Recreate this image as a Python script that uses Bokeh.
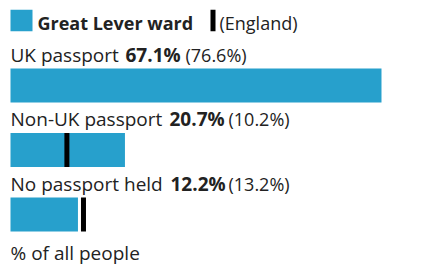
from bokeh.plotting import figure
from bokeh.models import Range1d
from bokeh.core.properties import value
from bokeh.embed import file_html
from bokeh.resources import INLINE

# ---- data ----
categories = ["UK passport", "Non-UK passport", "No passport held"]
ward_values = [67.1, 20.7, 12.2]
england_values = [76.6, 10.2, 13.2]
area_name = "Great Lever ward"
comparison_name = "England"
axis_note = "% of all people"

# ---- layout (pixels, in picture coordinates) ----
OFF = 0
W, H = 430, 264
PX_PER_PCT = 5.529
X0 = 10              # picture pixel of 0%
BAR_TOP0 = 68
ROW_STEP = 64.5
BAR_H = 34
LABEL_GAP = 9
TEXT_SHIFT = -5
bold_offsets = [115, 159, 160]
paren_offsets = [175, 218, 218]

FONT = value("Open Sans")
FS = "19px"
FS2 = "18px"
TXT = "#222222"
BAR = "#27a0cc"

def px(xpage):
    return (xpage - X0) / PX_PER_PCT

def py(ypage):
    return ypage - OFF

def ty(ypage):
    return ypage - OFF + TEXT_SHIFT

p = figure(width=W, height=H, output_backend="svg", toolbar_location=None,
           x_range=Range1d(px(OFF), px(OFF + W)), y_range=Range1d(H, 0),
           min_border=0, outline_line_color=None)
p.axis.visible = False
p.grid.visible = False
p.background_fill_color = "white"
p.border_fill_color = "white"

n = len(categories)
tops = [BAR_TOP0 + i * ROW_STEP for i in range(n)]
centers = [py(t) + BAR_H / 2 for t in tops]
baselines = [ty(t - LABEL_GAP) for t in tops]

p.hbar(y=centers, left=0, right=ward_values, height=BAR_H,
       fill_color=BAR, line_color=None)
p.rect(x=england_values, y=centers, width=5, width_units="screen",
       height=BAR_H, fill_color="black", line_color=None)

p.text(x=[0] * n, y=baselines, text=categories, text_font=FONT,
       text_font_size=FS, text_color=TXT, text_baseline="alphabetic")
p.text(x=[0] * n, y=baselines, text=[f"{v:.1f}%" for v in ward_values],
       x_offset=bold_offsets, text_font=FONT, text_font_style="bold",
       text_font_size=FS, text_color=TXT, text_baseline="alphabetic")
p.text(x=[0] * n, y=baselines, text=[f"({v:.1f}%)" for v in england_values],
       x_offset=paren_offsets, text_font=FONT,
       text_font_size=FS2, text_color=TXT, text_baseline="alphabetic")

# legend
p.rect(x=[px(21)], y=[py(20)], width=22, height=21.4, width_units="screen",
       fill_color=BAR, line_color=None)
p.text(x=[px(37)], y=[ty(27)], text=[area_name], text_font=FONT,
       text_font_style="bold", text_font_size=FS2, text_color=TXT,
       text_baseline="alphabetic")
p.rect(x=[px(212.5)], y=[py(20)], width=5, height=21.4, width_units="screen",
       fill_color="black", line_color=None)
p.text(x=[px(219)], y=[ty(27)], text=[f"({comparison_name})"], text_font=FONT,
       text_font_size=FS2, text_color=TXT, text_baseline="alphabetic")

p.text(x=[0], y=[ty(257)], text=[axis_note], text_font=FONT, text_font_size=FS,
       text_color=TXT, text_baseline="alphabetic")

open("out.html", "w").write(file_html(p, INLINE))
